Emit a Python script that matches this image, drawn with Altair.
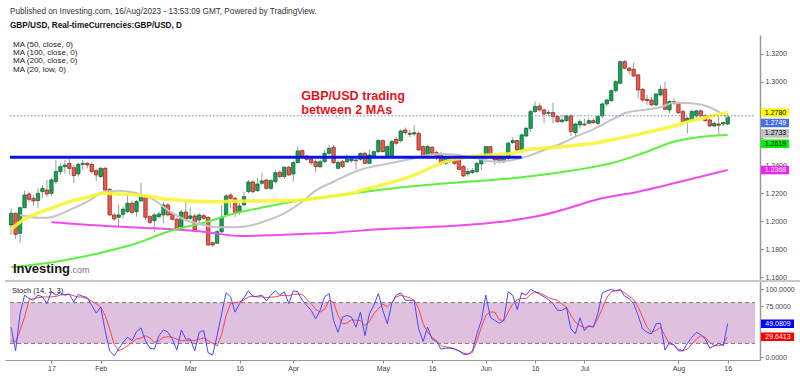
import altair as alt
import pandas as pd

FONT = "Liberation Sans"

# ---------------- daily candles (one per weekday, 4 Jan - 16 Aug 2023) ----------------
opens = [1.1974, 1.2058, 1.1914, 1.2098, 1.2196, 1.2165, 1.2149, 1.2213, 1.2225, 1.2201,
         1.2285, 1.2357, 1.2392, 1.2416, 1.2385, 1.2340, 1.2409, 1.2416, 1.2409, 1.2364,
         1.2321, 1.2380, 1.2230, 1.2046, 1.2029, 1.2051, 1.2070, 1.2130, 1.2070, 1.2146,
         1.2177, 1.2034, 1.2005, 1.2034, 1.2046, 1.2118, 1.2058, 1.2015, 1.1962, 1.2067,
         1.2022, 1.2039, 1.2010, 1.2041, 1.2029, 1.1847, 1.1843, 1.1926, 1.2046, 1.2189,
         1.2165, 1.2070, 1.2118, 1.2213, 1.2282, 1.2220, 1.2273, 1.2297, 1.2237, 1.2285,
         1.2352, 1.2321, 1.2388, 1.2340, 1.2421, 1.2507, 1.2469, 1.2445, 1.2428, 1.2392,
         1.2428, 1.2488, 1.2531, 1.2380, 1.2428, 1.2428, 1.2435, 1.2440, 1.2445, 1.2488,
         1.2416, 1.2469, 1.2500, 1.2579, 1.2459, 1.2464, 1.2588, 1.2579, 1.2655, 1.2624,
         1.2627, 1.2631, 1.2536, 1.2459, 1.2531, 1.2493, 1.2483, 1.2416, 1.2452, 1.2452,
         1.2445, 1.2393, 1.2340, 1.2349, 1.2357, 1.2412, 1.2464, 1.2536, 1.2464, 1.2452,
         1.2428, 1.2452, 1.2565, 1.2579, 1.2512, 1.2612, 1.2667, 1.2787, 1.2827, 1.2799,
         1.2775, 1.2780, 1.2751, 1.2715, 1.2722, 1.2756, 1.2636, 1.2691, 1.2698, 1.2703,
         1.2722, 1.2703, 1.2756, 1.2842, 1.2866, 1.2937, 1.2990, 1.3145, 1.3098, 1.3090,
         1.3050, 1.2947, 1.2875, 1.2870, 1.2835, 1.2906, 1.2947, 1.2799, 1.2859, 1.2847,
         1.2787, 1.2720, 1.2727, 1.2756, 1.2792, 1.2756, 1.2727, 1.2684, 1.2698, 1.2698,
         1.2698]
highs = [1.2094, 1.2063, 1.2106, 1.2220, 1.2213, 1.2189, 1.2237, 1.2261, 1.2297, 1.2309,
         1.2440, 1.2416, 1.2440, 1.2464, 1.2404, 1.2421, 1.2440, 1.2428, 1.2421, 1.2373,
         1.2392, 1.2392, 1.2237, 1.2058, 1.2118, 1.2106, 1.2196, 1.2149, 1.2153, 1.2278,
         1.2189, 1.2046, 1.2058, 1.2070, 1.2141, 1.2130, 1.2070, 1.2027, 1.2082, 1.2153,
         1.2101, 1.2053, 1.2058, 1.2053, 1.2034, 1.1855, 1.1938, 1.2118, 1.2196, 1.2201,
         1.2177, 1.2130, 1.2213, 1.2297, 1.2297, 1.2309, 1.2349, 1.2302, 1.2302, 1.2369,
         1.2369, 1.2397, 1.2397, 1.2435, 1.2536, 1.2517, 1.2476, 1.2459, 1.2445, 1.2440,
         1.2512, 1.2548, 1.2548, 1.2435, 1.2440, 1.2483, 1.2459, 1.2464, 1.2493, 1.2500,
         1.2517, 1.2507, 1.2588, 1.2588, 1.2548, 1.2584, 1.2603, 1.2660, 1.2674, 1.2655,
         1.2691, 1.2643, 1.2548, 1.2548, 1.2541, 1.2507, 1.2500, 1.2476, 1.2469, 1.2464,
         1.2459, 1.2404, 1.2381, 1.2381, 1.2428, 1.2476, 1.2541, 1.2541, 1.2476, 1.2464,
         1.2469, 1.2572, 1.2603, 1.2588, 1.2631, 1.2679, 1.2799, 1.2859, 1.2847, 1.2811,
         1.2799, 1.2851, 1.2763, 1.2763, 1.2763, 1.2770, 1.2708, 1.2732, 1.2739, 1.2739,
         1.2739, 1.2763, 1.2851, 1.2882, 1.2947, 1.3014, 1.3153, 1.3157, 1.3109, 1.3138,
         1.3057, 1.2954, 1.2906, 1.2894, 1.2923, 1.2978, 1.3002, 1.2870, 1.2882, 1.2859,
         1.2804, 1.2751, 1.2804, 1.2799, 1.2804, 1.2770, 1.2739, 1.2715, 1.2751, 1.2715,
         1.2775]
lows = [1.1902, 1.1874, 1.1847, 1.2094, 1.2141, 1.2110, 1.2094, 1.2165, 1.2177, 1.2182,
        1.2268, 1.2333, 1.2345, 1.2333, 1.2273, 1.2321, 1.2369, 1.2380, 1.2345, 1.2290,
        1.2309, 1.2213, 1.2039, 1.2005, 1.1962, 1.2022, 1.2058, 1.2051, 1.2034, 1.2141,
        1.2010, 1.1981, 1.1926, 1.2022, 1.1986, 1.2034, 1.2005, 1.1938, 1.1950, 1.2000,
        1.2010, 1.1926, 1.1986, 1.2010, 1.1824, 1.1819, 1.1838, 1.1914, 1.2034, 1.2094,
        1.2029, 1.2046, 1.2110, 1.2201, 1.2201, 1.2213, 1.2261, 1.2225, 1.2225, 1.2273,
        1.2309, 1.2302, 1.2325, 1.2285, 1.2416, 1.2452, 1.2435, 1.2404, 1.2352, 1.2380,
        1.2421, 1.2476, 1.2411, 1.2373, 1.2380, 1.2416, 1.2421, 1.2373, 1.2435, 1.2411,
        1.2409, 1.2464, 1.2488, 1.2495, 1.2452, 1.2459, 1.2548, 1.2565, 1.2620, 1.2603,
        1.2612, 1.2507, 1.2452, 1.2452, 1.2476, 1.2440, 1.2404, 1.2404, 1.2421, 1.2404,
        1.2364, 1.2316, 1.2321, 1.2340, 1.2345, 1.2369, 1.2416, 1.2452, 1.2404, 1.2416,
        1.2416, 1.2440, 1.2555, 1.2500, 1.2507, 1.2603, 1.2643, 1.2775, 1.2787, 1.2703,
        1.2751, 1.2703, 1.2708, 1.2703, 1.2715, 1.2612, 1.2603, 1.2667, 1.2684, 1.2698,
        1.2698, 1.2691, 1.2739, 1.2823, 1.2856, 1.2923, 1.2985, 1.3090, 1.3050, 1.3033,
        1.2882, 1.2859, 1.2835, 1.2823, 1.2827, 1.2894, 1.2799, 1.2775, 1.2835, 1.2770,
        1.2708, 1.2631, 1.2715, 1.2739, 1.2739, 1.2715, 1.2679, 1.2674, 1.2620, 1.2684,
        1.2691]
closes = [1.2058, 1.1907, 1.2098, 1.2189, 1.2158, 1.2146, 1.2201, 1.2237, 1.2196, 1.2297,
          1.2357, 1.2392, 1.2404, 1.2380, 1.2328, 1.2409, 1.2416, 1.2404, 1.2357, 1.2333,
          1.2380, 1.2225, 1.2046, 1.2017, 1.2046, 1.2087, 1.2130, 1.2063, 1.2141, 1.2177,
          1.2029, 1.1993, 1.2046, 1.2053, 1.2118, 1.2046, 1.2015, 1.1945, 1.2067, 1.2017,
          1.2039, 1.1938, 1.2046, 1.2022, 1.1831, 1.1831, 1.1926, 1.2029, 1.2182, 1.2165,
          1.2063, 1.2110, 1.2177, 1.2282, 1.2213, 1.2268, 1.2290, 1.2237, 1.2292, 1.2349,
          1.2321, 1.2388, 1.2333, 1.2421, 1.2505, 1.2464, 1.2445, 1.2421, 1.2392, 1.2428,
          1.2488, 1.2524, 1.2421, 1.2423, 1.2392, 1.2445, 1.2447, 1.2435, 1.2488, 1.2416,
          1.2476, 1.2500, 1.2579, 1.2500, 1.2536, 1.2572, 1.2560, 1.2648, 1.2636, 1.2631,
          1.2636, 1.2512, 1.2459, 1.2536, 1.2488, 1.2459, 1.2416, 1.2459, 1.2436, 1.2416,
          1.2373, 1.2326, 1.2357, 1.2364, 1.2416, 1.2459, 1.2536, 1.2459, 1.2440, 1.2433,
          1.2459, 1.2560, 1.2579, 1.2512, 1.2620, 1.2667, 1.2787, 1.2823, 1.2799, 1.2770,
          1.2780, 1.2751, 1.2715, 1.2727, 1.2756, 1.2643, 1.2698, 1.2715, 1.2691, 1.2722,
          1.2708, 1.2751, 1.2842, 1.2870, 1.2937, 1.3002, 1.3145, 1.3098, 1.3081, 1.3043,
          1.2942, 1.2870, 1.2866, 1.2835, 1.2913, 1.2947, 1.2804, 1.2859, 1.2847, 1.2780,
          1.2715, 1.2739, 1.2787, 1.2792, 1.2756, 1.2722, 1.2684, 1.2703, 1.2689, 1.2708,
          1.2749]

# ---------------- moving averages (bar index, value) ----------------
ma50_i = [0, 2, 6, 10, 13, 17, 21, 24, 28, 32, 35, 39, 43, 46, 50, 54, 57, 61, 65, 68,
          72, 76, 79, 82, 90, 97, 104, 112, 115, 123, 130, 134, 141, 148, 152, 156, 160]
ma50_v = [1.1943, 1.1995, 1.2060, 1.2105, 1.2141, 1.2173, 1.2201, 1.2196, 1.2189, 1.2173,
          1.2158, 1.2148, 1.2141, 1.2141, 1.2144, 1.2146, 1.2148, 1.2148, 1.2153, 1.2165,
          1.2182, 1.2201, 1.2230, 1.2254, 1.2332, 1.2428, 1.2469, 1.2488, 1.2512, 1.2535,
          1.2560, 1.2583, 1.2631, 1.2684, 1.2722, 1.2751, 1.2780]
ma100_i = [0, 10, 21, 28, 35, 43, 50, 57, 65, 72, 82, 97, 112, 126, 134, 141, 148, 156, 160]
ma100_v = [1.1671, 1.1711, 1.1782, 1.1843, 1.1926, 1.1990, 1.2058, 1.2105, 1.2153, 1.2182,
           1.2225, 1.2273, 1.2309, 1.2368, 1.2416, 1.2488, 1.2571, 1.2612, 1.2619]
ma200_i = [9, 21, 32, 43, 51, 65, 72, 82, 98, 109, 118, 124, 131, 140, 148, 160]
ma200_v = [1.1993, 1.1967, 1.1950, 1.1926, 1.1895, 1.1909, 1.1919, 1.1943, 1.1967, 1.1995,
           1.2040, 1.2090, 1.2158, 1.2213, 1.2273, 1.2368]
ma20_i = [2, 6, 8, 13, 17, 21, 24, 28, 32, 35, 39, 43, 46, 50, 54, 57, 61, 65, 68, 72,
          76, 79, 82, 90, 93, 97, 101, 104, 108, 112, 115, 119, 123, 126, 130, 134, 137,
          141, 145, 148, 152, 156, 158, 160]
ma20_v = [1.2046, 1.2026, 1.2026, 1.2081, 1.2141, 1.2213, 1.2220, 1.2201, 1.2153, 1.2081,
          1.2010, 1.1974, 1.1957, 1.1957, 1.1974, 1.2005, 1.2058, 1.2141, 1.2220, 1.2284,
          1.2345, 1.2380, 1.2401, 1.2452, 1.2476, 1.2483, 1.2469, 1.2452, 1.2428, 1.2440,
          1.2464, 1.2512, 1.2560, 1.2607, 1.2660, 1.2727, 1.2775, 1.2798, 1.2818, 1.2851,
          1.2847, 1.2818, 1.2785, 1.2745]

# ---------------- stochastic (14, 1, 3) ----------------
stoch_k = [43.8, 9, 63.6, 91, 86, 83.5, 91, 88.5, 78.5, 96,
           91, 94.4, 91, 92.4, 81, 92, 89.4, 87.4, 76, 64.6,
           73.5, 38.9, 9, 2, 11.6, 21.5, 29, 24, 37.3, 42.8,
           24, 13, 11.6, 31.4, 39.8, 36.4, 26.4, 10, 39.8, 26.4,
           26.4, 9, 36.4, 38.9, 6, 3, 31.4, 63.6, 94.4, 88.5,
           66, 78.5, 87.4, 97.4, 88.5, 89.4, 91, 82.5, 91, 97.4,
           91, 96, 78.5, 97.4, 96, 83.5, 76, 68.6, 56.2, 68.6,
           88.5, 93.4, 53.7, 36.4, 58.7, 61.2, 58.7, 43.8, 66, 31.4,
           63.6, 76, 93.4, 68.6, 48.8, 78.5, 91, 94.4, 83.5, 83.5,
           82.5, 41.3, 23, 43.8, 26.4, 23, 11.6, 13, 13, 11.6,
           9, 4, 4, 9, 33.9, 53.7, 91, 58.7, 53.7, 49.8,
           53.7, 96, 91, 69.6, 94.4, 91, 99.3, 96, 92.4, 88.5,
           84.5, 78.5, 68.6, 68.6, 72.6, 41.3, 33.9, 57.7, 38.9, 46.3,
           43.8, 63.6, 94.4, 97.4, 99.3, 97.4, 99.3, 89.4, 86, 78.5,
           61.2, 41.3, 36.4, 33.9, 48.8, 49.8, 10, 21.5, 18, 9,
           9, 20, 29, 36.4, 33, 26.4, 13, 16.5, 20, 16.5, 49.0809]
stoch_d = [24, 22, 38.9, 58.7, 83.5, 86, 87.4, 88, 88.4, 88.4,
           89, 91, 92, 92.4, 90, 88.4, 88, 86, 82, 78.5,
           73.6, 61.2, 41.3, 19, 9.1, 12, 16.5, 21.5, 26.4, 28,
           31.4, 28, 21.5, 24, 28.9, 30, 28.9, 26.4, 24, 24,
           24, 24, 26.4, 28, 24, 20, 16.5, 33, 61.2, 78.5,
           80, 81, 84, 88.4, 90, 88.4, 88.4, 87.4, 88, 88.4,
           90, 90.9, 90, 92.4, 92.4, 92.4, 85, 78.5, 70, 66.1,
           70, 83.5, 80, 61.2, 48.8, 50, 54.7, 54, 53.7, 46.3,
           52, 63.6, 71.1, 78, 73.6, 80, 88.4, 90.9, 89, 87.4,
           83.5, 71.1, 49, 36.4, 28.9, 24, 16.5, 15, 14, 12,
           9.1, 6, 4.1, 6.6, 24, 43.8, 61.2, 66.1, 66.1, 54.7,
           53.7, 66.1, 78.5, 84.5, 86, 86, 92.4, 95.9, 94.4, 90.9,
           87.4, 85, 83.5, 78, 73.6, 61.2, 51.2, 46.3, 42.8, 44.8,
           44.8, 56.2, 71.1, 87.4, 95.9, 97.4, 98.3, 94.4, 89.4, 84.5,
           73.6, 58.7, 43.8, 36.4, 38.9, 43.8, 31.4, 19, 18, 11.6,
           9.1, 11.6, 19, 26.4, 31.4, 28.9, 21.5, 16.5, 16.5, 19, 29.6413]

# ---------------- axes, levels, labels ----------------
x_tick_pos = [9, 20, 40, 51, 63, 83, 94, 106, 117, 128, 149, 160]
x_tick_text = ["17", "Feb", "Mar", "16", "Apr", "May", "16", "Jun", "16", "Jul", "Aug", "16"]
price_ticks = [1.16, 1.18, 1.20, 1.22, 1.24, 1.26, 1.28, 1.30, 1.32]
price_ticks_hidden = [1.26, 1.28]     # covered by the value tags
stoch_ticks = [0, 25, 50, 75, 100]
stoch_ticks_hidden = [25, 50]         # covered by the value tags
band_lo, band_hi = 20, 80

support_level = 1.2460
support_end = 114
price_line = 1.2757

tag_text = ["1.2780", "1.2749", "1.2733", "1.2619", "1.2368"]
tag_vals = [1.2780, 1.2749, 1.2733, 1.2619, 1.2368]
tag_fill = ["#ffff00", "#4a6fe0", "#c0c0c0", "#00ee00", "#ee22ee"]
tag_ink = ["#000000", "#ffffff", "#000000", "#000000", "#ffffff"]
stag_text = ["49.0809", "29.6413"]
stag_vals = [49.0809, 29.6413]
stag_fill = ["#0000ff", "#ff0000"]

note_lines = ["GBP/USD trading", "between 2 MAs"]
note_i = 64.8
note_prices = [1.2867, 1.2773]

header = "Published on Investing.com, 16/Aug/2023 - 13:53:09 GMT, Powered by TradingView."
subheader = "GBP/USD, Real-timeCurrencies:GBP/USD, D"
legend_lines = ["MA (50, close, 0)", "MA (100, close, 0)", "MA (200, close, 0)", "MA (20, low, 0)"]

# ---------------- geometry ----------------
W = 755
H_MAIN = 246
H_ST = 79
H = H_MAIN + H_ST
X_DOMAIN = [-0.25, 166.1]
P_DOMAIN = [1.15724, 1.33362]
S_DOMAIN = [-4.4, 111.8]

xs = alt.Scale(domain=X_DOMAIN, nice=False, zero=False)
ys_p = alt.Scale(domain=P_DOMAIN, range=[H_MAIN, 0], nice=False, zero=False)
ys_s = alt.Scale(domain=S_DOMAIN, range=[H, H_MAIN], nice=False, zero=False)

lab_expr = ("[" + ",".join("'%s'" % t for t in x_tick_text) + "][indexof(["
            + ",".join(str(p) for p in x_tick_pos) + "], datum.value)]")
p_lab_expr = ("indexof([" + ",".join(str(v) for v in price_ticks_hidden)
              + "], datum.value) >= 0 ? '' : format(datum.value, '.4f')")
s_lab_expr = ("indexof([" + ",".join(str(v) for v in stoch_ticks_hidden)
              + "], datum.value) >= 0 ? '' : format(datum.value, '.4f')")

x_axis = alt.Axis(values=x_tick_pos, labelExpr=lab_expr, orient="bottom", grid=False,
                  title=None, tickSize=3, tickColor="#888", domainColor="#999",
                  labelFontSize=7, labelColor="#444", labelFont=FONT, labelPadding=1)
p_axis = alt.Axis(orient="right", values=price_ticks, labelExpr=p_lab_expr, grid=False,
                  title=None, tickSize=3, tickColor="#888", domainColor="#999",
                  domainWidth=1.5, labelFontSize=7, labelColor="#444", labelFont=FONT,
                  labelPadding=2, labelFlush=False, labelOverlap=False)
s_axis = alt.Axis(orient="right", values=stoch_ticks, labelExpr=s_lab_expr, grid=False,
                  title=None, tickSize=3, tickColor="#888", domainColor="#999",
                  domainWidth=1.5, labelFontSize=7, labelColor="#444", labelFont=FONT,
                  labelPadding=2, labelFlush=False, labelOverlap=False)


def X(field):
    return alt.X(field, type="quantitative", scale=xs, axis=x_axis)


def YP(field):
    return alt.Y(field, type="quantitative", scale=ys_p, axis=p_axis)


def YS(field):
    return alt.Y(field, type="quantitative", scale=ys_s, axis=s_axis)


candles = pd.DataFrame({"i": list(range(len(opens))), "open": opens, "high": highs,
                        "low": lows, "close": closes})

wicks = alt.Chart(candles).mark_rule(color="#93a096", strokeWidth=1).encode(
    x=X("i"), y=YP("low"), y2="high")
up = "datum.close >= datum.open"
bodies = alt.Chart(candles).mark_bar(size=3.4, strokeWidth=0.7, opacity=1).encode(
    x=X("i"), y=YP("open"), y2="close",
    color=alt.condition(up, alt.value("#17a256"), alt.value("#ec5a4c")),
    stroke=alt.condition(up, alt.value("#0a5a2c"), alt.value("#8a1d14")))


def ma_line(idx, vals, color, width, opacity=1.0):
    df = pd.DataFrame({"i": idx, "v": vals})
    return alt.Chart(df).mark_line(color=color, strokeWidth=width, opacity=opacity,
                                   interpolate="monotone").encode(x=X("i"), y=YP("v"))


ma200 = ma_line(ma200_i, ma200_v, "#ee4cee", 2)
ma100 = ma_line(ma100_i, ma100_v, "#5ef040", 2)
ma20 = ma_line(ma20_i, ma20_v, "#c4c4c4", 2)
ma50 = ma_line(ma50_i, ma50_v, "#f8f536", 3.5, 0.9)

support = alt.Chart(pd.DataFrame({"i": [X_DOMAIN[0]], "i2": [support_end],
                                  "v": [support_level]})).mark_rule(
    color="#0a14e6", strokeWidth=3).encode(x=X("i"), x2="i2", y=YP("v"))
pline = alt.Chart(pd.DataFrame({"i": [X_DOMAIN[0]], "i2": [X_DOMAIN[1]],
                                "v": [price_line]})).mark_rule(
    color="#6a85d8", strokeWidth=1, strokeDash=[1.5, 2]).encode(x=X("i"), x2="i2", y=YP("v"))

note = alt.Chart(pd.DataFrame({"i": [note_i] * 2, "v": note_prices, "t": note_lines})).mark_text(
    align="left", baseline="alphabetic", font=FONT, fontSize=12.6, fontWeight="bold",
    color="#e8141c").encode(x=X("i"), y=YP("v"), text="t:N")

# separator between panes
sep = alt.Chart(pd.DataFrame({"a": [0]})).mark_rule(color="#c8c8c8", strokeWidth=2).encode(
    x=alt.value(0), x2=alt.value(W + 40), y=alt.value(H_MAIN))

# header and legend texts
head = alt.Chart(pd.DataFrame({"t": [header]})).mark_text(
    align="left", baseline="middle", font=FONT, fontSize=8.2, color="#333").encode(
    x=alt.value(5), y=alt.value(-23), text="t:N")
sub = alt.Chart(pd.DataFrame({"t": [subheader]})).mark_text(
    align="left", baseline="middle", font=FONT, fontSize=8.2, fontWeight="bold",
    color="#111").encode(x=alt.value(5), y=alt.value(-9), text="t:N")
leg_layers = []
for k, line in enumerate(legend_lines):
    leg_layers.append(alt.Chart(pd.DataFrame({"t": [line]})).mark_text(
        align="left", baseline="middle", font=FONT, fontSize=8, color="#222").encode(
        x=alt.value(8), y=alt.value(9.5 + 8.4 * k), text="t:N"))

logo1 = alt.Chart(pd.DataFrame({"t": ["Investing"]})).mark_text(
    align="left", baseline="alphabetic", font=FONT, fontSize=13, fontWeight="bold",
    color="#161616").encode(x=alt.value(8), y=alt.value(238), text="t:N")
logo2 = alt.Chart(pd.DataFrame({"t": [".com"]})).mark_text(
    align="left", baseline="alphabetic", font=FONT, fontSize=9,
    color="#777").encode(x=alt.value(65), y=alt.value(238), text="t:N")

# right-hand value tags (stacked so they do not overlap)
p_per_px = (P_DOMAIN[1] - P_DOMAIN[0]) / H_MAIN
step = 10.4 * p_per_px
pos = []
for v in tag_vals:
    pos.append(v if not pos else min(v, pos[-1] - step))
tags = pd.DataFrame({"t": tag_text, "v": pos, "fill": tag_fill, "ink": tag_ink})
tag_box = alt.Chart(tags).mark_tick(orient="horizontal", size=28, thickness=8.5,
                                    opacity=1).encode(
    x=alt.value(W + 15), y=YP("v"), color=alt.Color("fill:N", scale=None))
tag_txt = alt.Chart(tags).mark_text(align="center", baseline="middle", font=FONT,
                                    fontSize=7).encode(
    x=alt.value(W + 15.5), y=YP("v"), text="t:N", color=alt.Color("ink:N", scale=None))

main = alt.layer(wicks, bodies, ma200, ma100, ma20, ma50, support, pline, note,
                 tag_box, tag_txt, sep, head, sub, *leg_layers, logo1, logo2)

# ---------------- stochastic pane ----------------
band = alt.Chart(pd.DataFrame({"i": [X_DOMAIN[0]], "i2": [X_DOMAIN[1]], "lo": [band_lo],
                               "hi": [band_hi]})).mark_rect(color="#dfc0df").encode(
    x=X("i"), x2="i2", y=YS("lo"), y2="hi")
band_lines = alt.Chart(pd.DataFrame({"i": [X_DOMAIN[0]] * 2, "i2": [X_DOMAIN[1]] * 2,
                                     "v": [band_lo, band_hi]})).mark_rule(
    color="#7a7a7a", strokeWidth=1, strokeDash=[4, 3]).encode(x=X("i"), x2="i2", y=YS("v"))
st = pd.DataFrame({"i": list(range(len(stoch_k))), "k": stoch_k, "d": stoch_d})
d_line = alt.Chart(st).mark_line(color="#ff4545", strokeWidth=1).encode(x=X("i"), y=YS("d"))
k_line = alt.Chart(st).mark_line(color="#4848ff", strokeWidth=1).encode(x=X("i"), y=YS("k"))
st_label = alt.Chart(pd.DataFrame({"t": ["Stoch (14, 1, 3)"]})).mark_text(
    align="left", baseline="middle", font=FONT, fontSize=7.5, color="#222").encode(
    x=alt.value(7), y=alt.value(H_MAIN + 10), text="t:N")
stags = pd.DataFrame({"t": stag_text, "v": stag_vals, "fill": stag_fill})
stag_box = alt.Chart(stags).mark_tick(orient="horizontal", size=33, thickness=8.5,
                                      opacity=1).encode(
    x=alt.value(W + 17.5), y=YS("v"), color=alt.Color("fill:N", scale=None))
stag_txt = alt.Chart(stags).mark_text(align="center", baseline="middle", font=FONT,
                                      fontSize=7, color="#ffffff").encode(
    x=alt.value(W + 18), y=YS("v"), text="t:N")

stoch = alt.layer(band, band_lines, d_line, k_line, st_label, stag_box, stag_txt)

chart = alt.layer(main, stoch).resolve_scale(y="independent").resolve_axis(
    y="independent").properties(
    width=W, height=H,
    padding={"left": 5, "top": 35, "right": 40, "bottom": 16},
    autosize=alt.AutoSizeParams(type="none"),
    background="white",
).configure_view(stroke=None)

chart.save("out.html", embed_options={"renderer": "svg", "actions": False})
